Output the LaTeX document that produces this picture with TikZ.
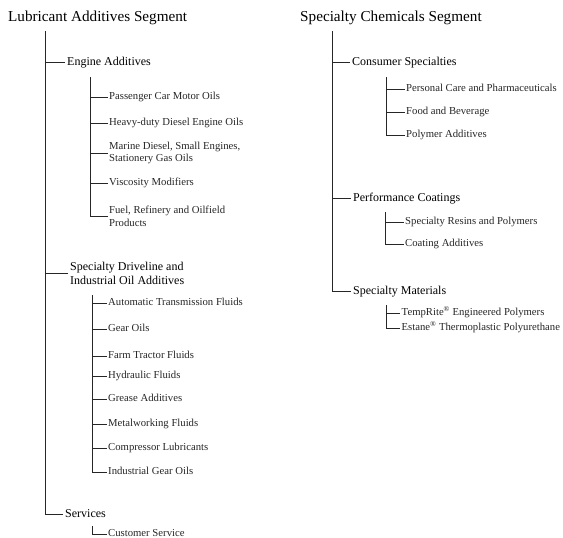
\documentclass[tikz,border=0pt]{standalone}
\usepackage{fontspec}
\setmainfont{Liberation Serif}
\begin{document}
\begin{tikzpicture}[x=1pt,y=-1pt,
  t0/.style={anchor=west,inner sep=0pt,font=\fontsize{15.2}{18}\selectfont,text height=10.5pt,text depth=3pt},
  t1/.style={anchor=west,inner xsep=2pt,inner ysep=0pt,font=\fontsize{12}{14}\selectfont},
  t2/.style={anchor=west,inner xsep=1.5pt,inner ysep=0pt,text=black!85,font=\fontsize{10.7}{12.8}\selectfont},
  o1/.style={text height=8.6pt,text depth=2.6pt},
  o2/.style={text height=7.5pt,text depth=2.3pt},
  ln/.style={line width=0.8pt,draw=black!85}]
\useasboundingbox (0,0) rectangle (563,538);

% ---------------- Left tree ----------------
\node[t0] (L0) at (8,18) {Lubricant Additives Segment};
\coordinate (tL) at (45,31);

\node[t1,o1] (E) at (65,62) {Engine Additives};
\coordinate (tE) at (90,77);
\node[t2,o2] (e1) at (107.5,97) {Passenger Car Motor Oils};
\node[t2,o2] (e2) at (107.5,123) {Heavy-duty Diesel Engine Oils};
\node[t2,align=left] (e3) at (107.5,153) {Marine Diesel, Small Engines,\\Stationery Gas Oils};
\node[t2,o2] (e4) at (107.5,183) {Viscosity Modifiers};
\node[t2,align=left] (e5) at (107.5,216) {Fuel, Refinery and Oilfield\\Products};

\node[t1,align=left,font=\fontsize{12}{14}\selectfont] (D) at (68,273) {Specialty Driveline and\\Industrial Oil Additives};
\coordinate (tD) at (92,295);
\node[t2,o2] (d1) at (106.5,303) {Automatic Transmission Fluids};
\node[t2,o2] (d2) at (106.5,329) {Gear Oils};
\node[t2,o2] (d3) at (106.5,356) {Farm Tractor Fluids};
\node[t2,o2] (d4) at (106.5,376) {Hydraulic Fluids};
\node[t2,o2] (d5) at (106.5,399) {Grease Additives};
\node[t2,o2] (d6) at (106.5,424) {Metalworking Fluids};
\node[t2,o2] (d7) at (106.5,448) {Compressor Lubricants};
\node[t2,o2] (d8) at (106.5,472) {Industrial Gear Oils};

\node[t1,o1] (S) at (63,514) {Services};
\coordinate (tS) at (92,526);
\node[t2,o2] (s1) at (106.5,534) {Customer Service};

\draw[ln] (tL) |- (S.west);
\draw[ln] (tL |- E.west) -- (E.west);
\draw[ln] (tL |- D.west) -- (D.west);

\draw[ln] (tE) |- (e5.west);
\foreach \n in {e1,e2,e3,e4} \draw[ln] (tE |- \n.west) -- (\n.west);

\draw[ln] (tD) |- (d8.west);
\foreach \n in {d1,d2,d3,d4,d5,d6,d7} \draw[ln] (tD |- \n.west) -- (\n.west);

\draw[ln] (tS) |- (s1.west);

% ---------------- Right tree ----------------
\node[t0] (R0) at (300,18) {Specialty Chemicals Segment};
\coordinate (tR) at (332,31);

\node[t1,o1] (C) at (350,62) {Consumer Specialties};
\coordinate (tC) at (386,77);
\node[t2,o2] (c1) at (404.5,89) {Personal Care and Pharmaceuticals};
\node[t2,o2] (c2) at (404.5,112) {Food and Beverage};
\node[t2,o2] (c3) at (404.5,135) {Polymer Additives};

\node[t1,o1] (P) at (351,198) {Performance Coatings};
\coordinate (tP) at (385,212);
\node[t2,o2] (p1) at (403.5,222) {Specialty Resins and Polymers};
\node[t2,o2] (p2) at (403.5,244) {Coating Additives};

\node[t1,o1] (M) at (351,291) {Specialty Materials};
\coordinate (tM) at (386,305);
\node[t2,o2] (m1) at (400,313) {TempRite\textsuperscript{®} Engineered Polymers};
\node[t2,o2] (m2) at (400,328) {Estane\textsuperscript{®} Thermoplastic Polyurethane};

\draw[ln] (tR) |- (M.west);
\draw[ln] (tR |- C.west) -- (C.west);
\draw[ln] (tR |- P.west) -- (P.west);

\draw[ln] (tC) |- (c3.west);
\foreach \n in {c1,c2} \draw[ln] (tC |- \n.west) -- (\n.west);

\draw[ln] (tP) |- (p2.west);
\draw[ln] (tP |- p1.west) -- (p1.west);

\draw[ln] (tM) |- (m2.west);
\draw[ln] (tM |- m1.west) -- (m1.west);
\end{tikzpicture}
\end{document}
